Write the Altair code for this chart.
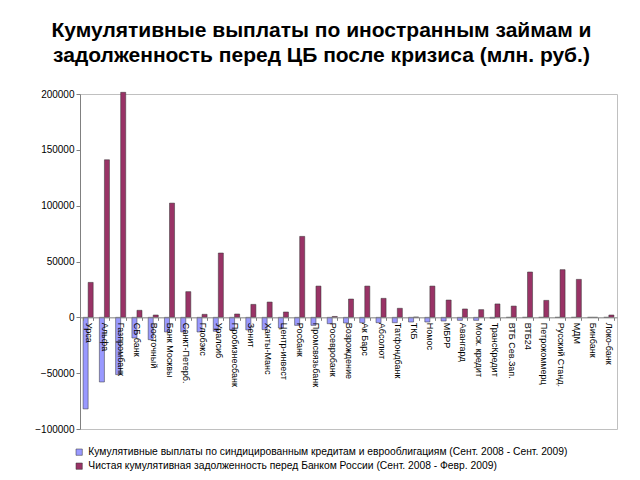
import altair as alt
import pandas as pd

banks = ["Урса", "Альфа", "Газпромбанк", "СБ банк", "Восточный", "Банк Москвы",
         "Санкт-Петерб.", "Глобэкс", "Уралсиб", "Пробизнесбанк", "Зенит",
         "Ханты-Манс", "Центр-инвест", "Росбанк", "Промсвязьбанк", "Росевробанк",
         "Возрождение", "Ак Барс", "Абсолют", "Татфондбанк", "ТКБ", "Номос",
         "МБРР", "Авангард", "Моск. кредит", "ТрансКредит", "ВТБ Сев.Зап.",
         "ВТБ24", "Петрокоммерц", "Русский Станд.", "МДМ", "Бинбанк", "Локо-банк"]

payments = [-82000, -57900, -51300, -18500, -20000, -13100, -13100, -13100,
            -12500, -11300, -11300, -11000, -9500, -7200, -7200, -5700, -5100,
            -4800, -4800, -4800, -4200, -4200, -3300, -2700, -2700, -700, 0,
            0, 0, 0, 0, 0, 0]

debt = [31300, 141100, 201500, 6300, 2100, 102300, 23000, 2700, 57600, 3000,
        11600, 13700, 4800, 72500, 28000, 800, 16400, 28000, 17000, 8100, 300,
        28000, 15500, 7500, 6900, 12000, 10100, 40600, 15200, 42700, 34000, 0,
        2100]

series = ["Кумулятивные выплаты по синдицированным кредитам и еврооблигациям (Сент. 2008 - Сент. 2009)",
          "Чистая кумулятивная задолженность перед Банком России (Сент. 2008 - Февр. 2009)"]

title_lines = ["Кумулятивные выплаты по иностранным займам и",
               "задолженность перед ЦБ после кризиса (млн. руб.)"]

y_ticks = [-100000, -50000, 0, 50000, 100000, 150000, 200000]

rows = []
for b, p, d in zip(banks, payments, debt):
    rows.append({"bank": b, "series": series[0], "value": p})
    rows.append({"bank": b, "series": series[1], "value": d})
df = pd.DataFrame(rows)

FONT = "Liberation Sans, Arial, Helvetica, sans-serif"

bars = alt.Chart(df).mark_bar(stroke="#333333", strokeWidth=0.5).encode(
    x=alt.X("bank:N", sort=banks, title=None,
            scale=alt.Scale(paddingInner=0.38, paddingOuter=0.19),
            axis=alt.Axis(orient="bottom", offset=-111.67, labelAngle=90,
                          labelAlign="left", labelBaseline="middle",
                          labelFontSize=9, labelColor="#000000", labelFont=FONT,
                          labelPadding=2, tickSize=3, tickBand="extent",
                          domainColor="#808080", tickColor="#808080",
                          zindex=1, labelOverlap=False)),
    xOffset=alt.XOffset("series:N", sort=series),
    y=alt.Y("value:Q", title=None,
            scale=alt.Scale(domain=[-100000, 200000], nice=False),
            axis=alt.Axis(values=y_ticks, format="d", grid=False,
                          labelFontSize=10, labelColor="#000000", labelFont=FONT,
                          tickSize=4, domainColor="#808080", tickColor="#808080",
                          minExtent=60, maxExtent=60)),
    color=alt.Color("series:N", sort=series,
                    scale=alt.Scale(domain=series, range=["#9999ff", "#993366"]),
                    legend=alt.Legend(title=None, orient="none", legendX=-6,
                                      legendY=353, direction="vertical",
                                      symbolType="square", symbolSize=40,
                                      symbolStrokeColor="#333333",
                                      symbolStrokeWidth=0.5,
                                      labelFontSize=10.3, labelFont=FONT,
                                      labelColor="#000000", labelLimit=0,
                                      rowPadding=3)),
)

chart = bars.properties(
    width=537, height=335,
    title=alt.TitleParams(text=title_lines, fontSize=21, font=FONT,
                          fontWeight="bold", anchor="middle", lineHeight=25,
                          color="#000000", offset=23, dx=-27),
    padding={"left": 12, "top": 12, "right": 5, "bottom": 5},
    background="#ffffff",
).configure_view(stroke="#c0c0c0", strokeWidth=1)

chart.save("out.html", embed_options={"renderer": "svg", "actions": False})
